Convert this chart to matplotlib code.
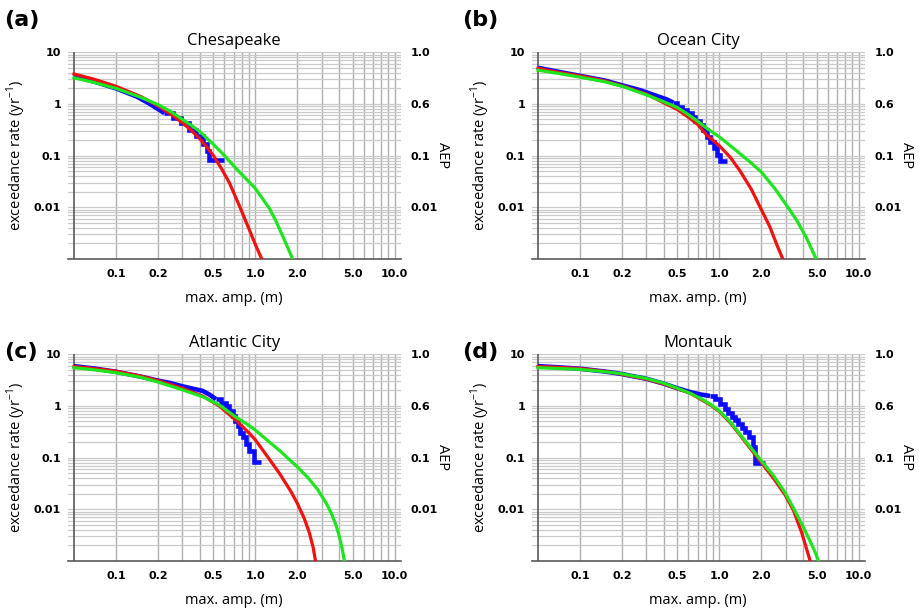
import matplotlib
matplotlib.use("Agg")
import matplotlib.pyplot as plt
from matplotlib.ticker import NullFormatter, NullLocator

# ---------------------------------------------------------
# data (x = max. amp. in m, y = rate 1/yr)
# ---------------------------------------------------------
sites = ["Chesapeake", "Ocean City", "Atlantic City", "Montauk"]
letters = ["(a)", "(b)", "(c)", "(d)"]

# (a) Chesapeake
ches_red_x = [0.05, 0.07, 0.1, 0.15, 0.2, 0.25, 0.3, 0.35, 0.4, 0.45, 0.5, 0.567, 0.65, 0.77, 0.9, 1.0, 1.11]
ches_red_y = [3.8, 3.0, 2.2, 1.4, 0.92, 0.62, 0.43, 0.3, 0.21, 0.145, 0.1, 0.058, 0.03, 0.0105, 0.0038, 0.0019, 0.001]
ches_green_x = [0.05, 0.07, 0.1, 0.15, 0.2, 0.25, 0.3, 0.35, 0.4, 0.5, 0.6, 0.747, 0.9, 1.0, 1.15, 1.26, 1.4, 1.55, 1.7, 1.85]
ches_green_y = [3.2, 2.6, 2.0, 1.35, 0.97, 0.7, 0.5, 0.38, 0.29, 0.165, 0.1, 0.052, 0.031, 0.023, 0.0135, 0.0095, 0.0055, 0.003, 0.0017, 0.001]
ches_obs_x = [0.05, 0.07, 0.1, 0.14, 0.17, 0.2, 0.223]
ches_obs_y = [3.5, 2.7, 2.0, 1.4, 1.05, 0.8, 0.66]
ches_step_x = [0.223, 0.255, 0.293, 0.336, 0.375, 0.42, 0.448, 0.468, 0.6]
ches_step_y = [0.66, 0.53, 0.42, 0.31, 0.24, 0.17, 0.12, 0.082, 0.082]

# (b) Ocean City
ocean_red_x = [0.05, 0.07, 0.1, 0.15, 0.2, 0.3, 0.4, 0.5, 0.6, 0.7, 0.81, 1.0, 1.2, 1.41, 1.7, 2.0, 2.3, 2.6, 2.85]
ocean_red_y = [4.9, 4.1, 3.5, 2.8, 2.25, 1.55, 1.05, 0.78, 0.55, 0.4, 0.25, 0.155, 0.092, 0.05, 0.022, 0.009, 0.0042, 0.0018, 0.001]
ocean_green_x = [0.05, 0.07, 0.1, 0.15, 0.2, 0.3, 0.4, 0.5, 0.6, 0.7, 0.81, 1.0, 1.3, 1.66, 2.0, 2.5, 3.1, 3.6, 4.2, 4.94]
ocean_green_y = [4.5, 3.9, 3.3, 2.7, 2.2, 1.5, 1.1, 0.85, 0.62, 0.46, 0.34, 0.23, 0.13, 0.075, 0.048, 0.023, 0.01, 0.0055, 0.0026, 0.001]
ocean_obs_x = [0.05, 0.07, 0.1, 0.15, 0.2, 0.27, 0.35, 0.42, 0.468]
ocean_obs_y = [5.0, 4.2, 3.5, 2.85, 2.3, 1.85, 1.45, 1.22, 1.06]
ocean_step_x = [0.468, 0.495, 0.537, 0.583, 0.633, 0.669, 0.727, 0.768, 0.812, 0.858, 0.916, 0.967, 1.01, 1.13]
ocean_step_y = [1.06, 0.89, 0.765, 0.66, 0.57, 0.475, 0.39, 0.31, 0.23, 0.185, 0.138, 0.103, 0.079, 0.079]

# (c) Atlantic City
atl_red_x = [0.05, 0.07, 0.1, 0.15, 0.2, 0.3, 0.42, 0.55, 0.73, 0.9, 1.0, 1.26, 1.5, 1.8, 2.0, 2.25, 2.44, 2.6, 2.7]
atl_red_y = [5.8, 5.3, 4.7, 3.8, 3.1, 2.2, 1.55, 1.0, 0.52, 0.3, 0.22, 0.093, 0.048, 0.022, 0.013, 0.0065, 0.0035, 0.0018, 0.001]
atl_green_x = [0.05, 0.07, 0.1, 0.15, 0.2, 0.3, 0.42, 0.55, 0.73, 0.9, 1.0, 1.26, 1.5, 2.0, 2.4, 2.8, 3.2, 3.5, 3.8, 4.0, 4.2, 4.35]
atl_green_y = [5.5, 5.0, 4.4, 3.6, 2.9, 2.05, 1.5, 1.05, 0.6, 0.42, 0.34, 0.2, 0.135, 0.066, 0.04, 0.024, 0.0135, 0.0085, 0.0048, 0.003, 0.0017, 0.001]
atl_obs_x = [0.05, 0.07, 0.1, 0.15, 0.2, 0.242, 0.3, 0.42, 0.47, 0.523]
atl_obs_y = [5.9, 5.3, 4.6, 3.7, 3.1, 2.8, 2.4, 1.95, 1.65, 1.35]
atl_step_x = [0.523, 0.567, 0.616, 0.651, 0.688, 0.716, 0.747, 0.777, 0.82, 0.857, 0.906, 0.984, 1.1]
atl_step_y = [1.35, 1.16, 1.0, 0.80, 0.64, 0.51, 0.41, 0.305, 0.245, 0.18, 0.135, 0.083, 0.083]

# (d) Montauk
mont_red_x = [0.05, 0.07, 0.1, 0.15, 0.2, 0.3, 0.4, 0.5, 0.62, 0.75, 0.86, 1.0, 1.2, 1.41, 1.7, 1.96, 2.44, 2.96, 3.4, 3.9, 4.48]
mont_red_y = [5.8, 5.6, 5.3, 4.7, 4.1, 3.3, 2.65, 2.15, 1.75, 1.3, 1.05, 0.78, 0.47, 0.27, 0.14, 0.086, 0.04, 0.019, 0.0095, 0.0035, 0.001]
mont_green_x = [0.05, 0.1, 0.15, 0.2, 0.3, 0.4, 0.5, 0.62, 0.75, 0.86, 1.0, 1.2, 1.41, 1.7, 1.96, 2.44, 2.96, 3.4, 3.9, 4.48, 4.8, 5.14]
mont_green_y = [5.5, 5.1, 4.6, 4.2, 3.4, 2.75, 2.2, 1.75, 1.35, 1.08, 0.8, 0.49, 0.28, 0.15, 0.093, 0.045, 0.021, 0.0105, 0.0052, 0.0024, 0.0016, 0.001]
mont_obs_x = [0.05, 0.07, 0.1, 0.15, 0.2, 0.3, 0.4, 0.5, 0.62, 0.75, 0.858]
mont_obs_y = [5.9, 5.6, 5.25, 4.65, 4.15, 3.35, 2.7, 2.2, 1.85, 1.65, 1.56]
mont_step_x = [0.858, 0.93, 1.01, 1.10, 1.16, 1.23, 1.30, 1.37, 1.45, 1.53, 1.64, 1.74, 1.80, 2.13]
mont_step_y = [1.56, 1.35, 1.08, 0.89, 0.74, 0.62, 0.54, 0.44, 0.38, 0.31, 0.245, 0.157, 0.08, 0.08]

x_ticks = [0.1, 0.2, 0.5, 1, 2, 5, 10]
x_tick_labels = ["0.1", "0.2", "0.5", "1.0", "2.0", "5.0", "10.0"]
x_minor = [0.3, 0.4, 0.6, 0.7, 0.8, 0.9, 3, 4, 6, 7, 8, 9]
y_ticks = [0.01, 0.1, 1, 10]
y_tick_labels = ["0.01", "0.1", "1", "10"]
aep_labels = ["0.01", "0.1", "0.6", "1.0"]
y_minor = [k * 10.0 ** n for n in range(-3, 1) for k in range(2, 10)]

panels = [
    (ches_red_x, ches_red_y, ches_green_x, ches_green_y, ches_obs_x, ches_obs_y, ches_step_x, ches_step_y),
    (ocean_red_x, ocean_red_y, ocean_green_x, ocean_green_y, ocean_obs_x, ocean_obs_y, ocean_step_x, ocean_step_y),
    (atl_red_x, atl_red_y, atl_green_x, atl_green_y, atl_obs_x, atl_obs_y, atl_step_x, atl_step_y),
    (mont_red_x, mont_red_y, mont_green_x, mont_green_y, mont_obs_x, mont_obs_y, mont_step_x, mont_step_y),
]

# ---------------------------------------------------------
# figure
# ---------------------------------------------------------
W, H = 919, 613
fig = plt.figure(figsize=(W / 100, H / 100), dpi=100)

# axes boxes in pixels: left, top
boxes = [(68, 52.3), (532, 52.3), (68, 354.3), (532, 354.3)]
ax_w, ax_h = 332.5, 206.5
letter_pos = [(4, 20), (462, 20), (4, 352), (462, 352)]

TXT = "Open Sans"
TCK = "DejaVu Sans"
axis_col = "#5a5a5a"

for i, (rx, ry, gx, gy, bx, by, sx, sy) in enumerate(panels):
    left, top = boxes[i]
    ax = fig.add_axes([left / W, 1 - (top + ax_h) / H, ax_w / W, ax_h / H])
    ax.set_xscale("log")
    ax.set_yscale("log")
    ax.set_xlim(0.0453, 11.0)
    ax.set_ylim(0.001, 10)

    ax.set_xticks(x_ticks, labels=x_tick_labels, fontweight="bold", fontsize=8, family=TCK)
    ax.set_xticks(x_minor, minor=True)
    ax.set_yticks(y_ticks, labels=y_tick_labels, fontweight="bold", fontsize=8, family=TCK)
    ax.set_yticks(y_minor, minor=True)
    ax.xaxis.set_minor_formatter(NullFormatter())
    ax.yaxis.set_minor_formatter(NullFormatter())
    ax.tick_params(which="both", length=0)
    ax.tick_params(axis="x", pad=7)
    ax.tick_params(axis="y", pad=5)

    ax.grid(which="both", axis="x", color="#b0b0b0", lw=1.0)
    ax.grid(which="both", axis="y", color="#cacaca", lw=0.9)
    ax.set_axisbelow(True)

    for s in ["top", "right", "left"]:
        ax.spines[s].set_visible(False)
    ax.spines["bottom"].set_color(axis_col)
    ax.spines["bottom"].set_linewidth(1.2)
    ax.axvline(0.05, color=axis_col, lw=1.2, zorder=1.5)

    # curves
    ax.plot(bx, by, color="#0a0aff", lw=3.3, solid_capstyle="butt", zorder=3)
    ax.plot(sx, sy, color="#0a0aff", lw=3.3, drawstyle="steps-post",
            solid_joinstyle="miter", solid_capstyle="butt", zorder=3)
    ax.plot(rx, ry, color="#f21010", lw=2.3, zorder=4)
    ax.plot(gx, gy, color="#1ee61e", lw=2.3, zorder=5)

    ax.set_title(sites[i], family=TXT, fontsize=12, pad=5)
    ax.set_xlabel("max. amp. (m)", family=TXT, fontsize=10.5)
    ax.xaxis.set_label_coords(0.5, -0.155)
    ax.set_ylabel("exceedance rate (yr$^{\\mathregular{-1}}$)", family=TXT, fontsize=10.5)
    ax.yaxis.set_label_coords(-0.12, 0.5)

    # AEP axis on the right
    ax2 = ax.twinx()
    ax2.set_yscale("log")
    ax2.set_ylim(0.001, 10)
    ax2.set_yticks(y_ticks, labels=aep_labels, fontweight="bold", fontsize=8, family=TCK)
    ax2.yaxis.set_minor_locator(NullLocator())
    ax2.tick_params(length=0, pad=7)
    for s in ax2.spines.values():
        s.set_visible(False)
    ax2.set_ylabel("AEP", family=TXT, fontsize=10.5, rotation=270, va="center")
    ax2.yaxis.set_label_coords(1.127, 0.5)

    lx, ly = letter_pos[i]
    fig.text(lx / W, 1 - ly / H, letters[i], family=TCK, fontweight="bold",
             fontsize=16, ha="left", va="center")

fig.savefig("out.png", dpi=100)
